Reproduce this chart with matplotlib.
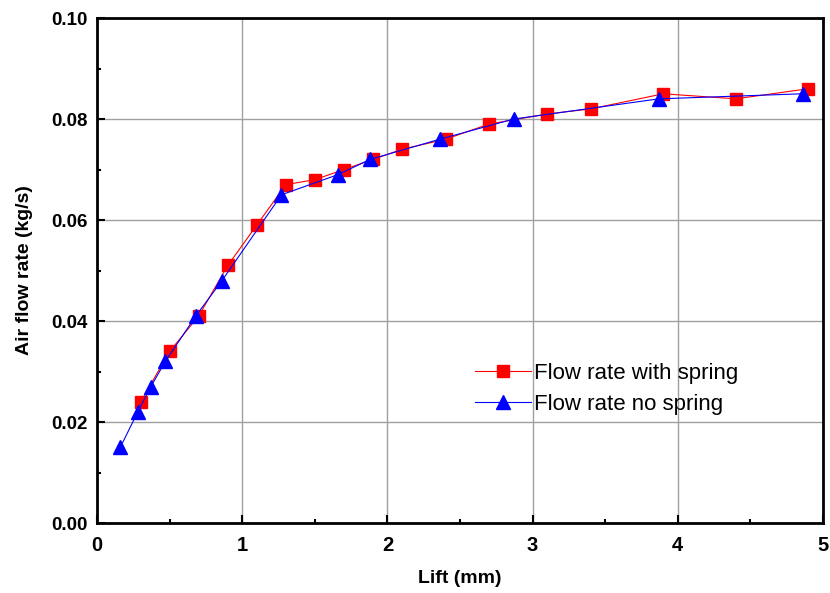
import matplotlib
matplotlib.use("Agg")
import matplotlib.pyplot as plt
from matplotlib.ticker import MultipleLocator, FormatStrFormatter

spring_x = [0.3, 0.5, 0.7, 0.9, 1.1, 1.3, 1.5, 1.7, 1.9, 2.1, 2.4, 2.7, 3.1, 3.4, 3.9, 4.4, 4.9]
spring_y = [0.024, 0.034, 0.041, 0.051, 0.059, 0.067, 0.068, 0.070, 0.072, 0.074, 0.076, 0.079, 0.081, 0.082, 0.085, 0.084, 0.086]
nospring_x = [0.16, 0.28, 0.37, 0.47, 0.68, 0.86, 1.27, 1.66, 1.88, 2.36, 2.87, 3.87, 4.86]
nospring_y = [0.015, 0.022, 0.027, 0.032, 0.041, 0.048, 0.065, 0.069, 0.072, 0.076, 0.080, 0.084, 0.085]

plt.rcParams['font.family'] = ['Liberation Sans', 'DejaVu Sans']

fig = plt.figure(figsize=(8.3, 5.93), dpi=100)
ax = fig.add_axes([0.117, 0.118, 0.8745, 0.8516])

ax.plot(spring_x, spring_y, color='red', lw=0.8, marker='s', ms=8,
        markeredgecolor='red', label='Flow rate with spring', zorder=3)
ax.plot(nospring_x, nospring_y, color='blue', lw=0.8, marker='^', ms=10,
        markeredgecolor='blue', label='Flow rate no spring', zorder=4)

ax.set_xlim(0, 5)
ax.set_ylim(0, 0.10)
ax.xaxis.set_major_locator(MultipleLocator(1))
ax.xaxis.set_minor_locator(MultipleLocator(0.5))
ax.yaxis.set_major_locator(MultipleLocator(0.02))
ax.yaxis.set_minor_locator(MultipleLocator(0.01))
ax.yaxis.set_major_formatter(FormatStrFormatter('%.2f'))
ax.grid(True, which='major', color='#a0a0a0', lw=1.0)
ax.set_axisbelow(True)
ax.tick_params(which='both', direction='in', top=False, right=False, width=1.5)
ax.tick_params(which='major', length=6)
ax.tick_params(which='minor', length=3)
ax.tick_params(axis='x', which='major', labelsize=14.5, pad=9)
ax.tick_params(axis='y', which='major', labelsize=13.5, pad=7)
for lab in ax.get_xticklabels() + ax.get_yticklabels():
    lab.set_fontweight('bold')
for s in ax.spines.values():
    s.set_linewidth(2)

ax.set_xlabel('Lift (mm)', fontsize=14, fontweight='bold', labelpad=11)
ax.set_ylabel('Air flow rate (kg/s)', fontsize=14, fontweight='bold', labelpad=13)

ax.legend(loc='center left', bbox_to_anchor=(0.521, 0.265), frameon=False,
          fontsize=16, handlelength=2.5, handletextpad=0.15, labelspacing=0.45,
          borderpad=0, borderaxespad=0)

fig.savefig('out.png', dpi=100)
